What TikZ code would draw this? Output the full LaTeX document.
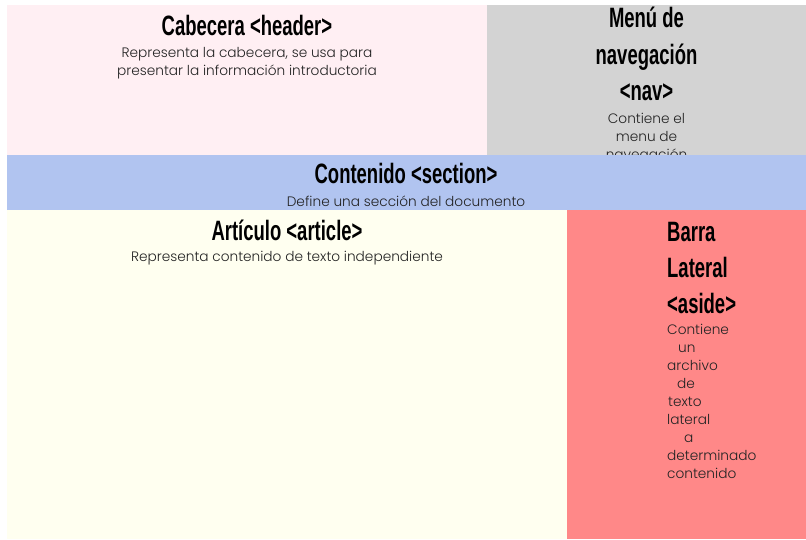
\documentclass[tikz,border=0pt]{standalone}
\usepackage{fontspec}
\usepackage{graphicx}
\setmainfont{Liberation Sans}
\newfontfamily\bodyfont{Poppins Light}
\definecolor{hdrcol}{RGB}{255,239,243}
\definecolor{navcol}{RGB}{211,211,211}
\definecolor{seccol}{RGB}{177,196,240}
\definecolor{artcol}{RGB}{255,255,240}
\definecolor{asdcol}{RGB}{255,136,136}
\definecolor{txtcol}{RGB}{35,35,35}
\newcommand\hd[1]{\scalebox{0.66}[1]{\fontsize{28}{30}\selectfont\bfseries #1}}
\tikzset{
  panel/.style={draw=none, anchor=north west, inner sep=0pt, outer sep=0pt},
  head/.style={inner sep=0pt, anchor=base, text=black},
  headl/.style={inner sep=0pt, anchor=base west, text=black},
  body/.style={inner sep=0pt, anchor=base, text=txtcol, font=\bodyfont\fontsize{13.7}{18}\selectfont},
  bodyl/.style={inner sep=0pt, anchor=base west, text=txtcol, font=\bodyfont\fontsize{13.7}{18}\selectfont}
}
\begin{document}
\begin{tikzpicture}[x=1pt,y=-1pt]
\useasboundingbox[fill=white] (0,0) rectangle (806,539);
% header
\node[panel, fill=hdrcol, minimum width=480pt, minimum height=150pt] (header) at (7,5) {};
\node[head] (htitle) at (247,35) {\hd{Cabecera <header>}};
\node[body] (hbody1) at (247,57) {Representa la cabecera, se usa para};
\node[body] (hbody2) at (247,75) {presentar la información introductoria};
% nav
\node[panel, fill=navcol, minimum width=319pt, minimum height=150pt] (nav) at (487,5) {};
\node[head] (ntitle1) at (646.5,27) {\hd{Menú de}};
\node[head] (ntitle2) at (646.5,64) {\hd{navegación}};
\node[head] (ntitle3) at (646.5,100) {\hd{<nav>}};
\node[body] (nbody1) at (646.5,123) {Contiene el};
\node[body] (nbody2) at (646.5,141) {menu de};
\node[body] (nbody3) at (646.5,159) {navegación};
% section
\node[panel, fill=seccol, minimum width=799pt, minimum height=55pt] (section) at (7,155) {};
\node[head] (stitle) at (406,183) {\hd{Contenido <section>}};
\node[body] (sbody) at (406,206) {Define una sección del documento};
% article
\node[panel, fill=artcol, minimum width=560pt, minimum height=329pt] (article) at (7,210) {};
\node[head] (atitle) at (287,240) {\hd{Artículo <article>}};
\node[body] (abody) at (287,261) {Representa contenido de texto independiente};
% aside
\node[panel, fill=asdcol, minimum width=239pt, minimum height=329pt] (aside) at (567,210) {};
\node[headl] (dtitle1) at (667,241) {\hd{Barra}};
\node[headl] (dtitle2) at (667,277) {\hd{Lateral}};
\node[headl] (dtitle3) at (667,313) {\hd{<aside>}};
\node[bodyl] (dbody1) at (667,334) {Contiene};
\node[bodyl] (dbody2) at (678,352) {un};
\node[bodyl] (dbody3) at (667,370) {archivo};
\node[bodyl] (dbody4) at (677,388) {de};
\node[bodyl] (dbody5) at (668,406) {texto};
\node[bodyl] (dbody6) at (667,424) {lateral};
\node[bodyl] (dbody7) at (684,442) {a};
\node[bodyl] (dbody8) at (667,460) {determinado};
\node[bodyl] (dbody9) at (667,478) {contenido};
\end{tikzpicture}
\end{document}
